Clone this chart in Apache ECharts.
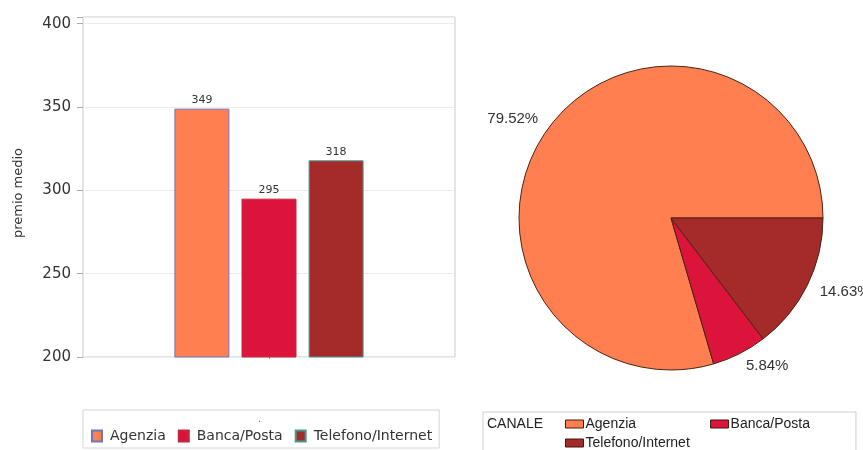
<!DOCTYPE html>
<html>
<head>
<meta charset="utf-8">
<script src="https://cdn.jsdelivr.net/npm/echarts@6/dist/echarts.min.js"></script>
<style>
  html, body { margin: 0; padding: 0; background: #fff; }
  #chart { width: 863px; height: 450px; }
</style>
</head>
<body>
<div id="chart"></div>
<script>
// premio medio per canale (bar chart) and channel share (pie)
const canali = ['Agenzia', 'Banca/Posta', 'Telefono/Internet'];
const premioMedio = [349, 295, 318];
const quote = [79.52, 5.84, 14.63];
const yTicks = [200, 250, 300, 350, 400];

const fills = ['#ff7f50', '#dc143c', '#a52a2a'];
const barBorders = ['#7075c0', '#c0283c', '#4a9a90'];

const chart = echarts.init(document.getElementById('chart'), null, { renderer: 'canvas' });

const barSeries = canali.map((name, i) => ({
  name,
  type: 'bar',
  data: [premioMedio[i]],
  barWidth: 55,
  barGap: '22%',
  itemStyle: { color: fills[i], borderColor: barBorders[i], borderWidth: 1 },
  label: {
    show: true,
    position: 'top',
    distance: 3,
    color: '#333',
    fontSize: 11,
    fontFamily: 'DejaVu Sans',
  },
}));

chart.setOption({
  animation: false,
  backgroundColor: '#fff',
  grid: {
    left: 83, right: 408, top: 17, bottom: 93,
    show: true, borderColor: '#c8cbcf', borderWidth: 1,
  },
  xAxis: {
    type: 'category',
    data: [''],
    axisLine: { show: false },
    axisTick: { show: true, alignWithLabel: true, length: 2, lineStyle: { color: '#999' } },
    axisLabel: { show: false },
  },
  yAxis: {
    type: 'value',
    min: yTicks[0],
    max: 404,
    interval: 50,
    name: 'premio medio',
    nameLocation: 'middle',
    nameGap: 58,
    nameTextStyle: { color: '#333', fontSize: 13, fontFamily: 'DejaVu Sans', padding: [0, 0, 0, -12] },
    axisLine: { show: false },
    axisTick: { show: true, length: 6, lineStyle: { color: '#aaa' } },
    axisLabel: {
      color: '#333',
      fontSize: 15,
      fontFamily: 'DejaVu Sans',
      margin: 12,
      formatter: (v) => (yTicks.includes(v) ? String(v) : ''),
    },
    splitLine: { lineStyle: { color: '#ececec' } },
  },
  legend: [
    {
      data: canali,
      left: 83,
      top: 410,
      icon: 'rect',
      itemWidth: 10,
      itemHeight: 11,
      itemGap: 12,
      padding: [19, 7, 5, 8],
      borderColor: '#d6d6d6',
      borderWidth: 1,
      textStyle: { color: '#333', fontSize: 14, fontFamily: 'DejaVu Sans', padding: [0, 0, 0, 3] },
      selectedMode: false,
    },
    {
      data: canali.slice(0, 2),
      left: 483,
      top: 412,
      icon: 'rect',
      itemWidth: 18,
      itemHeight: 8,
      itemGap: 74,
      padding: [5, 46, 40, 82],
      borderColor: '#d0d0d0',
      borderWidth: 1,
      itemStyle: { borderColor: '#3a1c10', borderWidth: 1 },
      textStyle: { color: '#222', fontSize: 14, fontFamily: 'Liberation Sans', padding: [0, 0, 0, -3] },
      selectedMode: false,
    },
    {
      data: canali.slice(2),
      left: 565,
      top: 436,
      icon: 'rect',
      itemWidth: 18,
      itemHeight: 8,
      padding: 0,
      itemStyle: { borderColor: '#3a1c10', borderWidth: 1 },
      textStyle: { color: '#222', fontSize: 14, fontFamily: 'Liberation Sans', padding: [0, 0, 0, -3] },
      selectedMode: false,
    },
  ],
  graphic: [
    { type: 'text', left: 258, top: 414, style: { text: '.', fill: '#555', font: '10px DejaVu Sans' } },
    { type: 'text', left: 487, top: 417, style: { text: 'CANALE', fill: '#222', font: '14px Liberation Sans' } },
  ],
  series: [
    ...barSeries,
    {
      type: 'pie',
      center: [671, 218],
      radius: 152,
      startAngle: 0,
      clockwise: false,
      silent: true,
      data: canali.map((name, i) => ({ name, value: quote[i], itemStyle: { color: fills[i] } })),
      itemStyle: { borderColor: '#4a2414', borderWidth: 1 },
      label: {
        show: true,
        position: 'outside',
        color: '#333',
        fontSize: 15,
        fontFamily: 'Liberation Sans',
        overflow: 'none',
        distanceToLabelLine: 0,
        formatter: (p) => p.value.toFixed(2) + '%',
      },
      labelLine: { show: false, length: 14, length2: 0 },
    },
  ],
});
</script>
</body>
</html>
